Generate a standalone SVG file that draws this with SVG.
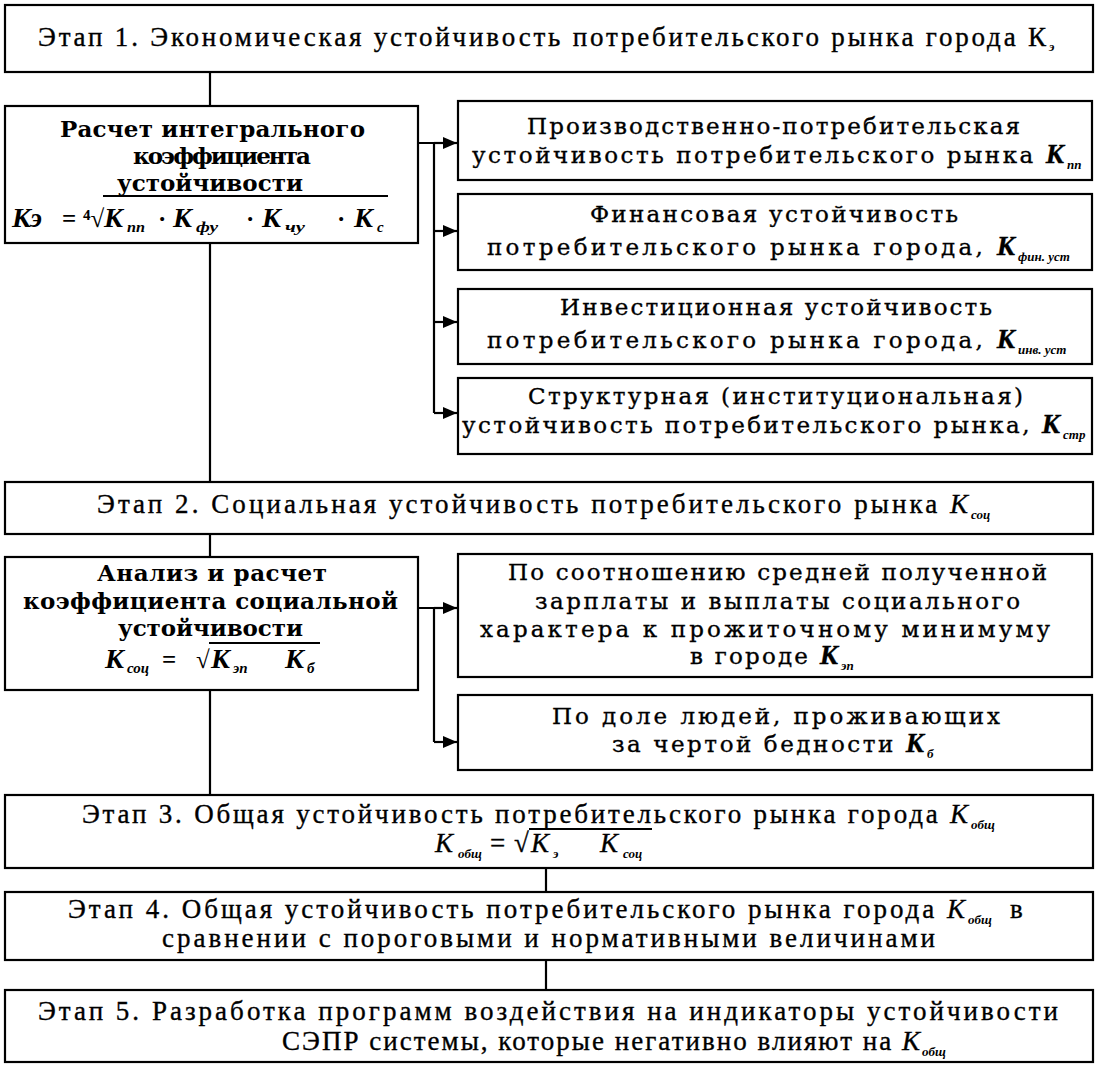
<svg xmlns="http://www.w3.org/2000/svg" width="1100" height="1066" viewBox="0 0 1100 1066">
<style>
.box{fill:#fff;stroke:#000;stroke-width:2.2}
.con{fill:none;stroke:#000;stroke-width:2.2}
.et{font-family:"Liberation Serif",serif;font-size:27px;fill:#000;stroke:#000;stroke-width:0.35}
.rb{font-family:"DejaVu Serif","Liberation Serif",serif;font-size:23px;fill:#000;stroke:#000;stroke-width:0.35}
.lb{font-family:"DejaVu Serif","Liberation Serif",serif;font-size:23px;font-weight:bold;fill:#000}
.k{font-family:"Liberation Serif",serif;font-size:27px;font-style:italic;font-weight:bold}
.sub{font-family:"Liberation Serif",serif;font-size:13px;font-style:italic;font-weight:bold;fill:#000}
.fs{font-family:"Liberation Serif",serif;font-size:15px;font-style:italic;font-weight:bold;fill:#000}
.fk{font-family:"Liberation Serif",serif;font-size:28px;font-style:italic;font-weight:bold;fill:#000}
.op{font-family:"Liberation Serif",serif;font-size:25px;font-weight:bold;fill:#000}
</style>
<defs>
<marker id="ah" markerUnits="userSpaceOnUse" markerWidth="14" markerHeight="12" refX="14" refY="6" orient="auto">
<path d="M0,0 L14,6 L0,12 z" fill="#000"/>
</marker>
</defs>
<rect width="1100" height="1066" fill="#fff"/>

<g id="connectors">
<path class="con" d="M210,72 V106 M210,243 V482 M210,534 V557 M210,690 V795 M546,868 V892 M546,960 V990"/>
<path class="con" d="M418,143 H434 V413"/>
<path class="con" marker-end="url(#ah)" d="M434,143 H457"/>
<path class="con" marker-end="url(#ah)" d="M434,231 H457"/>
<path class="con" marker-end="url(#ah)" d="M434,322 H457"/>
<path class="con" marker-end="url(#ah)" d="M434,413 H457"/>
<path class="con" d="M418,608 H434 V742"/>
<path class="con" marker-end="url(#ah)" d="M434,608 H457"/>
<path class="con" marker-end="url(#ah)" d="M434,742 H457"/>
</g>

<g id="stage1">
<rect class="box" x="5" y="5" width="1088" height="67"/>
<text class="et" x="38" y="46" textLength="1008" lengthAdjust="spacing">Этап 1. Экономическая устойчивость потребительского рынка города К</text>
<text class="sub" x="1049" y="51" font-style="normal" font-size="14">э</text>
</g>

<g id="calc1">
<rect class="box" x="5" y="106" width="413" height="137"/>
<text class="lb" x="60" y="137" textLength="305" lengthAdjust="spacing">Расчет интегрального</text>
<text class="lb" x="133" y="164" textLength="178" lengthAdjust="spacing">коэффициента</text>
<text class="lb" x="117" y="191" textLength="186" lengthAdjust="spacing">устойчивости</text>
<line x1="103" y1="196" x2="388" y2="196" stroke="#000" stroke-width="2"/>
<text class="fk" x="12" y="227">Кэ</text>
<text class="op" x="62" y="227">=</text>
<text class="op" x="83" y="227">⁴√</text>
<text class="fk" x="104" y="227">К</text>
<text class="fs" x="127" y="232" textLength="18" lengthAdjust="spacingAndGlyphs">пп</text>
<text class="op" x="158" y="227">·</text>
<text class="fk" x="173" y="227">К</text>
<text class="fs" x="196" y="232" textLength="22" lengthAdjust="spacingAndGlyphs">фу</text>
<text class="op" x="246" y="227">·</text>
<text class="fk" x="262" y="227">К</text>
<text class="fs" x="285" y="232" textLength="20" lengthAdjust="spacingAndGlyphs">чу</text>
<text class="op" x="337" y="227">·</text>
<text class="fk" x="354" y="227">К</text>
<text class="fs" x="377" y="232">с</text>
</g>

<g id="prod">
<rect class="box" x="458" y="101" width="634" height="79"/>
<text class="rb" x="527" y="134" textLength="493" lengthAdjust="spacing">Производственно-потребительская</text>
<text class="rb" x="472" y="163" textLength="592" lengthAdjust="spacing">устойчивость потребительского рынка <tspan class="k">К</tspan></text>
<text class="sub" x="1067" y="169">пп</text>
</g>

<g id="fin">
<rect class="box" x="458" y="194" width="634" height="76"/>
<text class="rb" x="590" y="222" textLength="368" lengthAdjust="spacing">Финансовая устойчивость</text>
<text class="rb" x="487" y="255" textLength="528" lengthAdjust="spacing">потребительского рынка города, <tspan class="k">К</tspan></text>
<text class="sub" x="1018" y="261">фин. уст</text>
</g>

<g id="inv">
<rect class="box" x="458" y="289" width="634" height="75"/>
<text class="rb" x="560" y="315" textLength="432" lengthAdjust="spacing">Инвестиционная устойчивость</text>
<text class="rb" x="487" y="348" textLength="528" lengthAdjust="spacing">потребительского рынка города, <tspan class="k">К</tspan></text>
<text class="sub" x="1018" y="354">инв. уст</text>
</g>

<g id="struct">
<rect class="box" x="458" y="378" width="634" height="76"/>
<text class="rb" x="528" y="404" textLength="495" lengthAdjust="spacing">Структурная (институциональная)</text>
<text class="rb" x="462" y="433" textLength="598" lengthAdjust="spacing">устойчивость потребительского рынка, <tspan class="k">К</tspan></text>
<text class="sub" x="1063" y="439">стр</text>
</g>

<g id="stage2">
<rect class="box" x="5" y="482" width="1088" height="52"/>
<text class="et" x="97" y="513" textLength="871" lengthAdjust="spacing">Этап 2. Социальная устойчивость потребительского рынка <tspan font-style="italic">К</tspan></text>
<text class="sub" x="971" y="519">соц</text>
</g>

<g id="calc2">
<rect class="box" x="5" y="557" width="413" height="133"/>
<text class="lb" x="97" y="581" textLength="230" lengthAdjust="spacing">Анализ и расчет</text>
<text class="lb" x="23" y="609" textLength="375" lengthAdjust="spacing">коэффициента социальной</text>
<text class="lb" x="118" y="636" textLength="185" lengthAdjust="spacing">устойчивости</text>
<line x1="209" y1="643" x2="320" y2="643" stroke="#000" stroke-width="2"/>
<text class="fk" x="105" y="668" font-size="26">К</text>
<text class="fs" x="127" y="673">соц</text>
<text class="op" x="162" y="668">=</text>
<text class="op" x="196" y="668">√</text>
<text class="fk" x="211" y="668" font-size="26">К</text>
<text class="fs" x="233" y="673">эп</text>
<text class="fk" x="285" y="668" font-size="26">К</text>
<text class="fs" x="307" y="673">б</text>
</g>

<g id="wage">
<rect class="box" x="458" y="554" width="634" height="123"/>
<text class="rb" x="508" y="580" textLength="539" lengthAdjust="spacing">По соотношению средней полученной</text>
<text class="rb" x="535" y="609" textLength="485" lengthAdjust="spacing">зарплаты и выплаты социального</text>
<text class="rb" x="480" y="637" textLength="570" lengthAdjust="spacing">характера к прожиточному минимуму</text>
<text class="rb" x="690" y="664" textLength="148" lengthAdjust="spacing">в городе <tspan class="k">К</tspan></text>
<text class="sub" x="841" y="670">эп</text>
</g>

<g id="poverty">
<rect class="box" x="458" y="695" width="634" height="75"/>
<text class="rb" x="552" y="724" textLength="448" lengthAdjust="spacing">По доле людей, проживающих</text>
<text class="rb" x="612" y="752" textLength="312" lengthAdjust="spacing">за чертой бедности <tspan class="k">К</tspan></text>
<text class="sub" x="927" y="758">б</text>
</g>

<g id="stage3">
<rect class="box" x="5" y="795" width="1088" height="73"/>
<text class="et" x="82" y="823" textLength="886" lengthAdjust="spacing">Этап 3. Общая устойчивость потребительского рынка города <tspan font-style="italic">К</tspan></text>
<text class="sub" x="971" y="829">общ</text>
<line x1="529" y1="829" x2="652" y2="829" stroke="#000" stroke-width="1.8"/>
<text class="et" x="435" y="852" font-style="italic">К</text>
<text class="sub" x="458" y="858">общ</text>
<text class="et" x="490" y="852">=</text>
<text class="et" x="514" y="852">√</text>
<text class="et" x="531" y="852" font-style="italic">К</text>
<text class="sub" x="553" y="858">э</text>
<text class="et" x="600" y="852" font-style="italic">К</text>
<text class="sub" x="623" y="858">соц</text>
</g>

<g id="stage4">
<rect class="box" x="5" y="892" width="1088" height="68"/>
<text class="et" x="68" y="918" textLength="897" lengthAdjust="spacing">Этап 4. Общая устойчивость потребительского рынка города <tspan font-style="italic">К</tspan></text>
<text class="sub" x="968" y="924">общ</text>
<text class="et" x="1010" y="918">в</text>
<text class="et" x="162" y="947" textLength="773" lengthAdjust="spacing">сравнении с пороговыми и нормативными величинами</text>
</g>

<g id="stage5">
<rect class="box" x="5" y="990" width="1088" height="72"/>
<text class="et" x="38" y="1020" textLength="1020" lengthAdjust="spacing">Этап 5. Разработка программ воздействия на индикаторы устойчивости</text>
<text class="et" x="282" y="1050" textLength="638" lengthAdjust="spacing">СЭПР системы, которые негативно влияют на <tspan font-style="italic">К</tspan></text>
<text class="sub" x="922" y="1056">общ</text>
</g>
</svg>
